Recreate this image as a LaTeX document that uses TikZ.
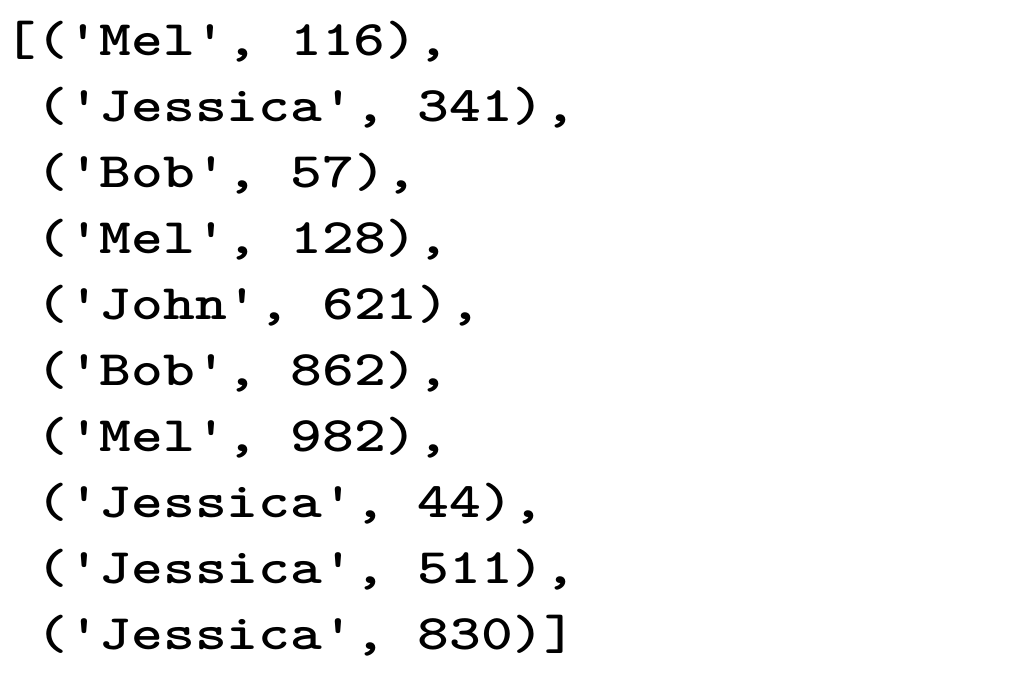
\documentclass[tikz,border=0pt]{standalone}
\usepackage{fontspec}
\begin{document}
\begin{tikzpicture}[
  x=0.75pt, y=-0.75pt,
  entry/.style={anchor=base west, inner sep=0pt, yscale=0.82, transform shape,
    font=\fontsize{45.4}{49.5}\selectfont\ttfamily\bfseries}]

\useasboundingbox (0,0) rectangle (1024,687);

% Primeira linha com o colchete
\node[entry] (row1) at ( 4, 55) {[('Mel', 116),};

% Demais tuplas
\node[entry] (row2)  at (36, 121) {('Jessica', 341),};
\node[entry] (row3)  at (36, 187) {('Bob', 57),};
\node[entry] (row4)  at (36, 253) {('Mel', 128),};
\node[entry] (row5)  at (36, 319) {('John', 621),};
\node[entry] (row6)  at (36, 385) {('Bob', 862),};
\node[entry] (row7)  at (36, 451) {('Mel', 982),};
\node[entry] (row8)  at (36, 517) {('Jessica', 44),};
\node[entry] (row9)  at (36, 583) {('Jessica', 511),};
\node[entry] (row10) at (36, 649) {('Jessica', 830)]};

\end{tikzpicture}
\end{document}
